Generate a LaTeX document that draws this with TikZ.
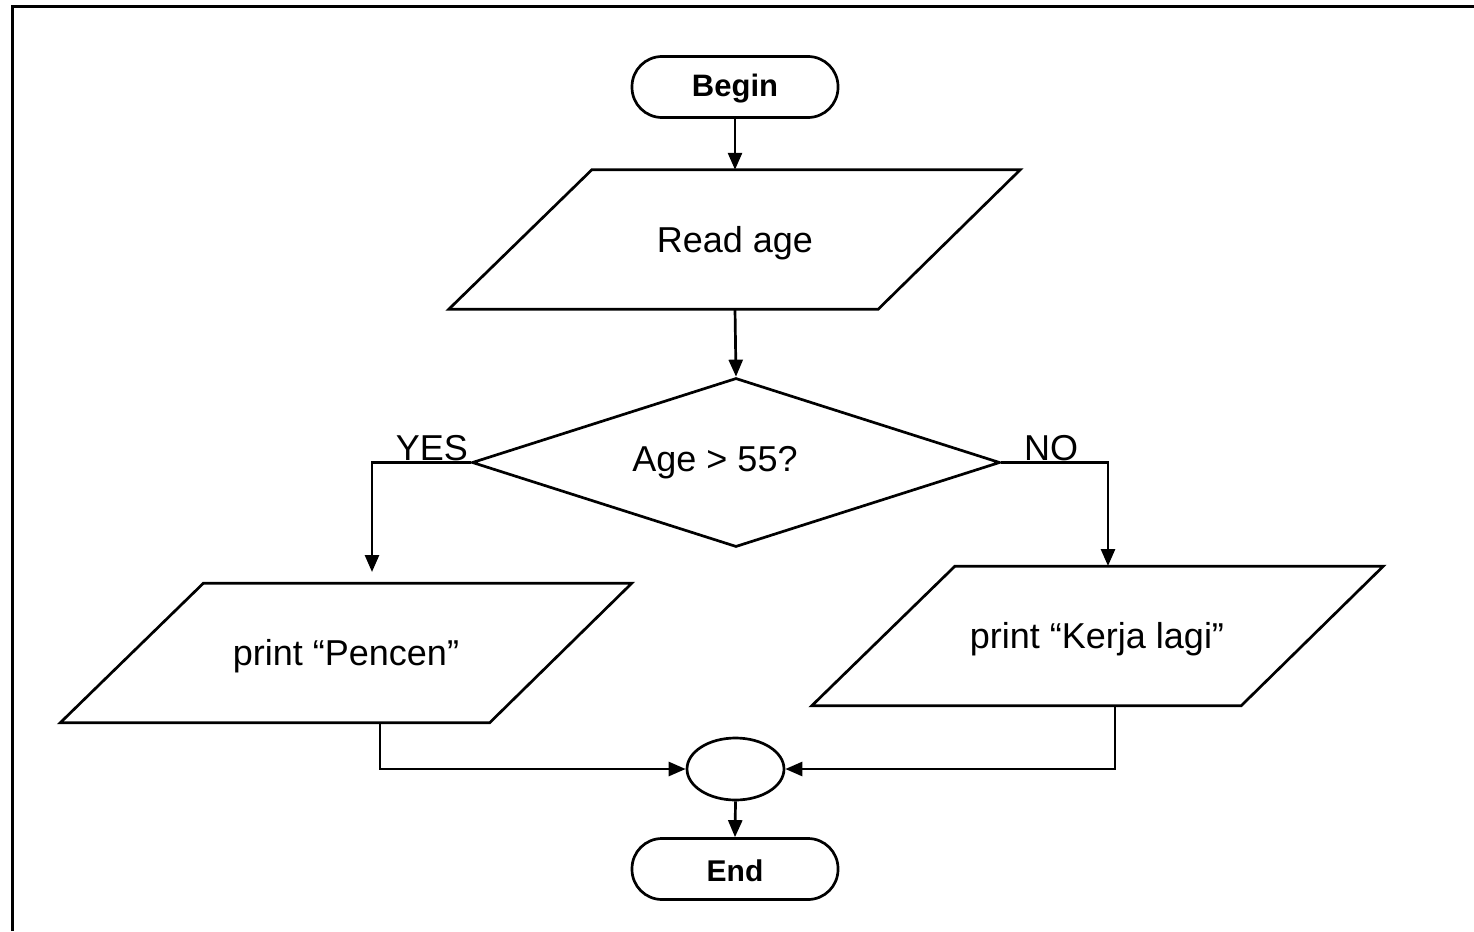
\documentclass[tikz,border=0pt]{standalone}
\usepackage{fontspec}
\setmainfont{Liberation Sans}
\usetikzlibrary{arrows.meta,shapes.geometric}

\tikzset{
  base/.style={draw, line width=2.7pt, inner sep=0pt},
  terminal/.style={base, rectangle, rounded corners=30pt,
    minimum width=206pt, minimum height=61pt},
  % inner box of a parallelogram; the slanted outline is drawn from its anchors
  iobox/.style={rectangle, inner sep=0pt, minimum width=286pt, minimum height=139pt},
  ioedge/.style={line width=2.7pt, line join=miter},
  decision/.style={base, diamond, minimum width=528pt, minimum height=169pt},
  joint/.style={base, ellipse, minimum width=97pt, minimum height=62pt},
  txt/.style={inner sep=0pt, font=\fontsize{36}{43}\selectfont},
  bold/.style={inner sep=0pt, font=\fontsize{31}{37}\selectfont\bfseries},
  arr/.style={line width=2.7pt, -{Triangle[length=17pt,width=14pt]}}
}

\begin{document}
\begin{tikzpicture}[x=1pt, y=-1pt]
  \useasboundingbox (0,0) rectangle (1474,931);

  % page frame
  \draw[line width=3pt] (12,931) -- (12,7) -- (1474,7);

  % terminals
  \node[terminal] (begin) at (735,87) {};
  \node[bold] (begintxt) at (735,89) {Begin};
  \node[terminal] (end) at (735,869) {};
  \node[bold, font=\fontsize{30}{36}\selectfont\bfseries] (endtxt) at (735,871) {End};

  % input / output boxes
  \node[iobox] (read) at (735,239.5) {};
  \node[iobox] (pencen) at (346.5,653) {};
  \node[iobox] (kerja) at (1098,636) {};
  \foreach \n in {read,pencen,kerja}
    \draw[ioedge] (\n.north west) -- ([xshift=142pt]\n.north east)
      -- (\n.south east) -- ([xshift=-143pt]\n.south west) -- cycle;
  \node[txt] (readtxt) at (735,243) {Read age};
  \node[txt] (pencentxt) at (346,656) {print “Pencen”};
  \node[txt] (kerjatxt) at (1097,639) {print “Kerja lagi”};

  % decision
  \node[decision] (dec) at (736,462.5) {};
  \node[txt] (cond) at (715,463) {Age > 55?};

  % merge point
  \node[joint] (join) at (735.5,769) {};

  % branch labels
  \node[txt, anchor=south east] (yes) at (468,461) {YES};
  \node[txt, anchor=south west] (no) at (1024,461) {NO};

  % connector end points
  \coordinate (yesend) at (372,572);
  \coordinate (noend) at (1108,566);
  \coordinate (pout) at (380,723);
  \coordinate (kout) at (1115,705);

  % connectors
  \draw[arr] (begin.south) -- (read.north);
  \draw[arr] (read.south) -- (dec.north);
  \draw[arr] (dec.west) -| (yesend);
  \draw[arr] (dec.east) -| (noend);
  \draw[arr] (pout) |- (join.west);
  \draw[arr] (kout) |- (join.east);
  \draw[arr] (join.south) -- (end.north);
\end{tikzpicture}
\end{document}
